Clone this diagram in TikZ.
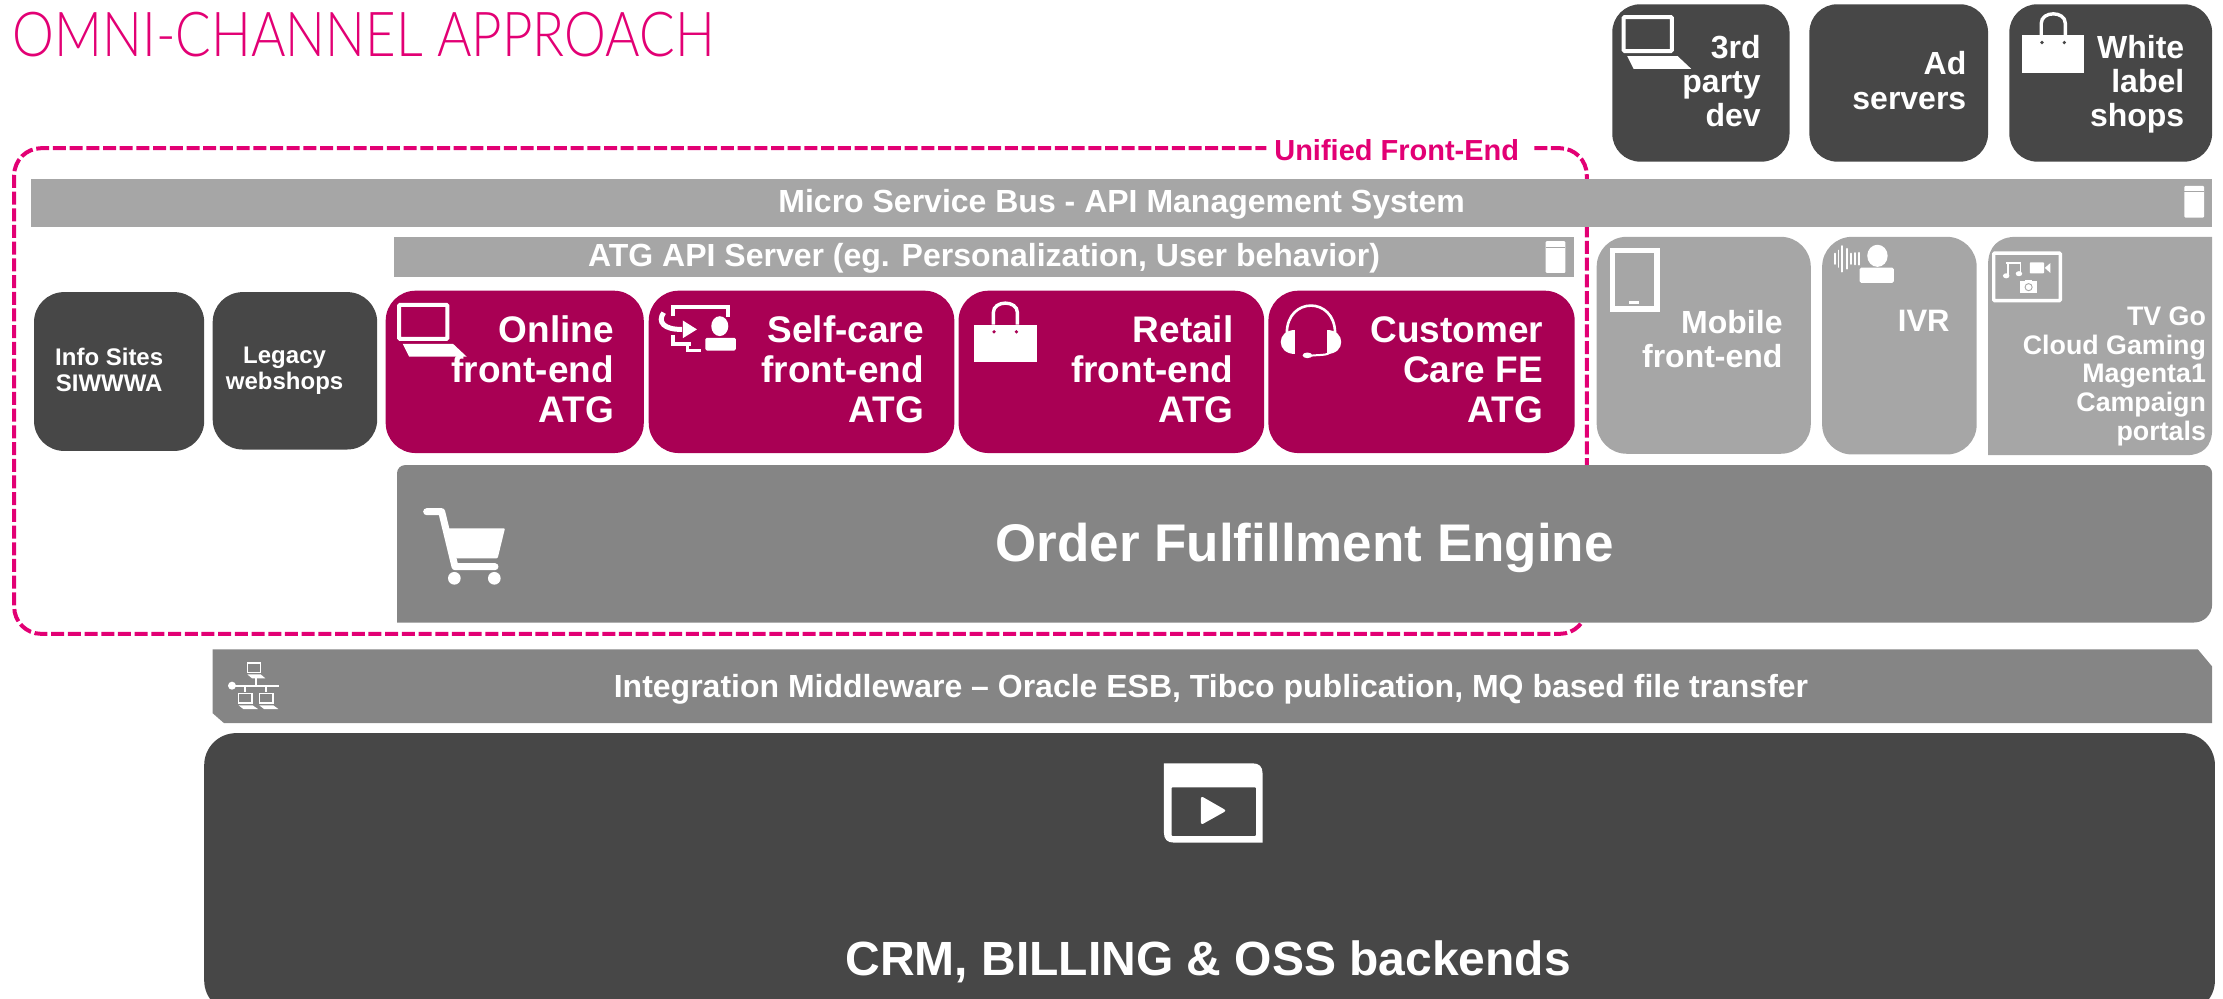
\documentclass[tikz,border=0pt]{standalone}
\usepackage{fontspec}
\setmainfont{Liberation Sans}
\newfontfamily\titlefont[FakeStretch=0.851]{Lato Light}
\definecolor{lightbar}{HTML}{A6A6A6}
\definecolor{midbar}{HTML}{858585}
\definecolor{darkbox}{HTML}{474747}
\definecolor{berry}{HTML}{A90054}
\definecolor{tmagenta}{HTML}{E20074}
\newcommand{\fs}[2]{\fontsize{#1}{#2}\selectfont\bfseries}
\tikzset{
  x=1.418pt,y=-1.418pt,
  lightbox/.style={fill=lightbar},
  midbox/.style={fill=midbar},
  darkfill/.style={fill=darkbox},
  berrybox/.style={fill=berry},
  lab/.style={text=white,inner sep=0pt,anchor=base east,align=right},
  clab/.style={text=white,inner sep=0pt,anchor=base,align=center},
  pics/laptopicon/.style={code={
    \draw[white,line width=4pt,rounded corners=1pt] (0,0) rectangle (34,24);
    \fill[white] (2.5,27.5) -- (38,27.5) -- (47.6,36.5) -- (7,36.5) -- cycle;
  }},
  pics/bagicon/.style={code={
    \fill[white] (0,16) rectangle (44,42.2);
    \draw[white,line width=3.4pt] (13.5,16) -- (13.5,7.5) .. controls (13.5,-1.5) and (30.5,-1.5) .. (30.5,7.5) -- (30.5,16);
    \fill[#1] (14,21) circle[radius=1.3];
    \fill[#1] (29.8,21) circle[radius=1.3];
  }},
  pics/servericon/.style={code={
    \fill[white,rounded corners=1.2pt] (0,0) rectangle (14,22.5);
    \draw[lightbar,line width=1pt] (0,4.2) -- (14,4.2);
  }},
}
\begin{document}
\begin{tikzpicture}
\useasboundingbox (0,0) rectangle (1567.7,704.5);
\clip (0,0) rectangle (1567.7,704.5);

% title
\node[inner sep=0pt,anchor=base west,text=tmagenta,font=\titlefont\fontsize{62}{62}\selectfont] (title) at (9,40) {OMNI-CHANNEL APPROACH};

% unified front-end frame
\draw[tmagenta,line width=4pt,dash pattern=on 13pt off 3.7pt,rounded corners=27pt] (1082,104.5) -- (1119,104.5) -- (1119,447) -- (10,447) -- (10,104.5) -- (893,104.5);
\node[inner sep=0pt,anchor=base,text=tmagenta,font=\fs{29}{29}] (unified) at (985,113) {Unified Front-End};

% top boxes
\path[darkfill,rounded corners=28pt] (1137,3) rectangle (1262,114);
\path[darkfill,rounded corners=28pt] (1276,3) rectangle (1402,114);
\path[darkfill,rounded corners=28pt] (1417,3) rectangle (1560,114);
\pic at (1145,12) {laptopicon};
\pic at (1426,9) {bagicon=darkbox};
\node[lab,font=\fs{32}{34}] (third) at (1241.8,89) {3rd\\party\\dev};
\node[lab,font=\fs{32}{35}] (adsrv) at (1386.8,77) {Ad\\servers};
\node[lab,font=\fs{32}{34}] (white) at (1540.5,89) {White\\label\\shops};

% micro service bus
\path[lightbox] (22,126) rectangle (1560,160);
\node[clab,font=\fs{32}{32}] (bus) at (791,150) {Micro Service Bus - API Management System};
\pic at (1540.4,131) {servericon};

% ATG API server
\path[lightbox] (278,167.4) rectangle (1110,195);
\node[clab,font=\fs{32}{32}] (atgapi) at (694,188) {ATG API Server (eg. Personalization, User behavior)};
\pic at (1090,170) {servericon};

% dark left boxes
\path[darkfill,rounded corners=30pt] (24,206) rectangle (144,318);
\path[darkfill,rounded corners=30pt] (150,206) rectangle (266,317);
\node[clab,font=\fs{24}{26}] (info) at (77,276) {Info Sites\\SIWWWA};
\node[clab,font=\fs{24}{26}] (legacy) at (200.7,275) {Legacy\\webshops};

% berry boxes
\path[berrybox,rounded corners=30pt] (272,205) rectangle (454,319.5);
\path[berrybox,rounded corners=30pt] (457.5,205) rectangle (673,319.5);
\path[berrybox,rounded corners=30pt] (676,205) rectangle (891.5,319.5);
\path[berrybox,rounded corners=30pt] (894.5,205) rectangle (1110.5,319.5);
\node[lab,font=\fs{37}{40}] (online) at (433,298) {Online\\front-end\\ATG};
\node[lab,font=\fs{37}{40}] (selfcare) at (651.6,298) {Self-care\\front-end\\ATG};
\node[lab,font=\fs{37}{40}] (retail) at (870,298) {Retail\\front-end\\ATG};
\node[lab,font=\fs{37}{40}] (care) at (1088.3,298) {Customer\\Care FE\\ATG};
\pic at (281.5,215) {laptopicon};
\pic at (687,213) {bagicon=berry};

% self-care icon
\begin{scope}[shift={(465,215)}]
  \draw[white,line width=4.4pt] (9.5,8) -- (9.5,1.5) -- (48.6,1.5) -- (48.6,8.5);
  \draw[white,line width=4.4pt] (9.5,21.5) -- (9.5,27.8) -- (22,27.8);
  \draw[white,line width=3pt] (20,27.8) -- (20,32) -- (29,32);
  \draw[white,line width=5pt] (3,5.5) .. controls (-1.5,12) and (3,17.5) .. (16,17.3);
  \fill[white] (16.5,11) -- (26.5,17.3) -- (16.5,23.5) -- cycle;
  \fill[white] (42.6,15) ellipse[x radius=6,y radius=7];
  \fill[white,rounded corners=1.5pt] (32.4,23.3) rectangle (54,32.2);
\end{scope}

% headset icon
\begin{scope}[shift={(903,215)}]
  \draw[white,line width=2.6pt] (4.5,20) .. controls (4.5,-6) and (38.5,-6) .. (38.5,20);
  \fill[white] (10,17.8) .. controls (-3.5,17.8) and (-3.5,34.3) .. (10,34.3) -- cycle;
  \fill[white] (33,17.8) .. controls (46.5,17.8) and (46.5,34.3) .. (33,34.3) -- cycle;
  \draw[white,line width=2pt] (36,33) .. controls (33,36) and (27,35) .. (20,36);
  \fill[white] (19,35.6) ellipse[x radius=3.4,y radius=2];
\end{scope}

% right light boxes
\path[lightbox,rounded corners=30pt] (1126,167) rectangle (1277,320);
\path[lightbox,rounded corners=30pt] (1285,167) rectangle (1394,320.5);
\path[lightbox] (1402,321) -- (1402,187) .. controls (1402,174) and (1409,167) .. (1422,167) -- (1560,167) -- (1560,303) .. controls (1560,315) and (1553,321) .. (1542,321) -- cycle;
\node[lab,font=\fs{32}{34}] (mobile) at (1257.2,259) {Mobile\\front-end};
\node[lab,font=\fs{31}{31}] (ivr) at (1375,234) {IVR};
\node[lab,font=\fs{26.8}{28.6}] (tvgo) at (1555.8,310.4) {TV Go\\Cloud Gaming\\Magenta1\\Campaign\\portals};

% tablet icon
\draw[white,line width=5.5pt] (1137,176.5) rectangle (1168.5,218);
\fill[white] (1149,212) rectangle (1156,214.5);

% ivr icon
\begin{scope}[shift={(1293,173)}]
  \foreach \bx/\bh in {1/3.6,3.5/5.8,6.3/9,9.3/7,12.2/3.6,15/4,18/4.2}
    \draw[white,line width=1.9pt,line cap=round] (\bx,9.5-\bh) -- (\bx,9.5+\bh);
  \fill[white] (31,7.4) ellipse[x radius=7.2,y radius=7.8];
  \fill[white,rounded corners=1.5pt] (18.5,15.7) rectangle (42.5,26.5);
\end{scope}

% tv icon
\begin{scope}[shift={(1405,177.5)}]
  \draw[white,line width=3.4pt,rounded corners=1pt] (1,1) rectangle (48,34.5);
  \draw[white,line width=1.5pt] (11,17) -- (11,8) -- (20,8) -- (20,15.5);
  \draw[white,line width=2.2pt] (9.5,8) -- (20.5,8);
  \fill[white] (9.8,17) ellipse[x radius=2.3,y radius=1.8];
  \fill[white] (18.8,15.5) ellipse[x radius=2.3,y radius=1.8];
  \fill[white,rounded corners=.8pt] (26.4,7.5) rectangle (36.5,15.3);
  \fill[white] (37,11.4) -- (41,8) -- (41,15) -- cycle;
  \fill[white] (19.5,21) rectangle (31.7,28.8);
  \fill[white] (23,19.7) rectangle (28,21);
  \draw[lightbar,line width=.9pt] (25.6,25) circle[radius=2.5];
\end{scope}

% order fulfillment
\path[midbox,rounded corners=8pt] (280,439) -- (280,328) -- (1560,328) [rounded corners=18pt] -- (1560,439) [sharp corners] -- cycle;
\node[clab,font=\fs{53}{53}] (order) at (920,396) {Order Fulfillment Engine};
\begin{scope}[shift={(282.1,324.4)},scale=.235]
  \draw[white,line width=7pt,line cap=round,line join=round] (80,155) -- (125,155) -- (165,320) -- (285,320);
  \fill[white,rounded corners=1pt] (145,205) -- (315,205) -- (293,295) -- (168,295) -- cycle;
  \fill[white] (163,355) circle[radius=19];
  \fill[white] (283,355) circle[radius=19];
\end{scope}

% integration middleware
\path[midbox] (150,458) -- (1550,458) -- (1560,470) -- (1560,510) -- (158,510) -- (150,503) -- cycle;
\node[clab,font=\fs{32}{32}] (middleware) at (854,492) {Integration Middleware -- Oracle ESB, Tibco publication, MQ based file transfer};
\begin{scope}[shift={(134,444.3)},scale=.235]
  \draw[white,line width=2pt] (125,167) -- (268,167) (197,145) -- (197,167) (165,167) -- (165,187) (228,167) -- (228,187);
  \fill[white] (126,167) circle[radius=12];
  \draw[white,line width=1.6pt] (172,99) rectangle (211,128);
  \fill[white] (172,133) -- (212,133) -- (226,145) -- (186,145) -- cycle;
  \draw[white,line width=1.6pt] (146,191) rectangle (186,219);
  \fill[white] (146,226) -- (188,226) -- (204,237) -- (160,237) -- cycle;
  \draw[white,line width=1.6pt] (208,191) rectangle (249,219);
  \fill[white] (208,226) -- (250,226) -- (265,237) -- (222,237) -- cycle;
\end{scope}

% backends
\path[darkfill,rounded corners=32pt] (144,517) rectangle (1562,714);
\node[clab,font=\fs{48}{48}] (crm) at (852,688) {CRM, BILLING \& OSS backends};
\begin{scope}[shift={(775.7,514.8)},scale=.235]
  \fill[white] (192,100) -- (458,100) .. controls (478,100) and (488,110) .. (488,130) -- (488,338) -- (222,338) .. controls (202,338) and (192,328) .. (192,308) -- cycle;
  \fill[darkbox,rounded corners=1pt] (215,172) rectangle (468,318);
  \fill[white,rounded corners=2.5pt] (303,198) -- (380,242) -- (303,285) -- cycle;
\end{scope}
\end{tikzpicture}
\end{document}
